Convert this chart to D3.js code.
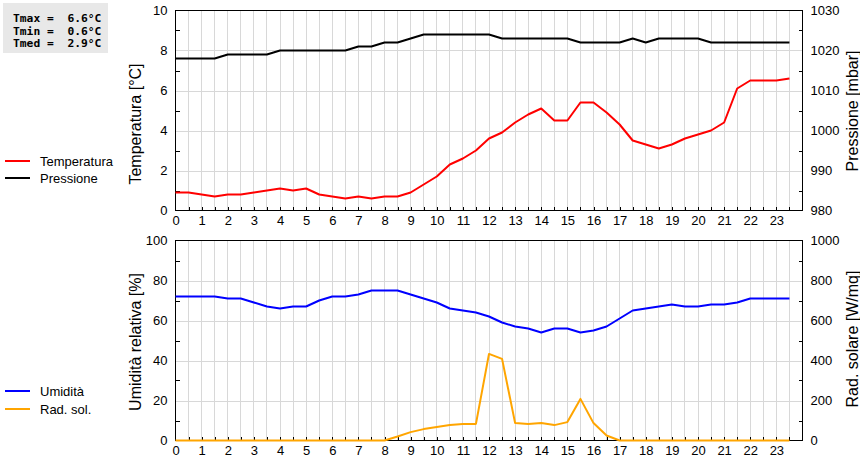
<!DOCTYPE html>
<html><head><meta charset="utf-8">
<script src="https://cdn.jsdelivr.net/npm/d3@7"></script>
<style>body{margin:0;background:#fff}svg{display:block}</style>
</head><body><svg id="c" width="860" height="460"></svg>
<script>
// half-hour samples 0 .. 23.5
const hours = d3.range(48).map(i => i / 2);
const temperatura = [0.9,0.9,0.8,0.7,0.8,0.8,0.9,1.0,1.1,1.0,1.1,0.8,0.7,0.6,0.7,0.6,0.7,0.7,0.9,1.3,1.7,2.3,2.6,3.0,3.6,3.9,4.4,4.8,5.1,4.5,4.5,5.4,5.4,4.9,4.3,3.5,3.3,3.1,3.3,3.6,3.8,4.0,4.4,6.1,6.5,6.5,6.5,6.6];
const pressione = [1018,1018,1018,1018,1019,1019,1019,1019,1020,1020,1020,1020,1020,1020,1021,1021,1022,1022,1023,1024,1024,1024,1024,1024,1024,1023,1023,1023,1023,1023,1023,1022,1022,1022,1022,1023,1022,1023,1023,1023,1023,1022,1022,1022,1022,1022,1022,1022];
const umidita = [72,72,72,72,71,71,69,67,66,67,67,70,72,72,73,75,75,75,73,71,69,66,65,64,62,59,57,56,54,56,56,54,55,57,61,65,66,67,68,67,67,68,68,69,71,71,71,71];
const radiazione = [0,0,0,0,0,0,0,0,0,0,0,0,0,0,0,0,0,20,42,57,67,77,83,83,433,408,87,82,88,77,92,208,87,25,0,0,0,0,0,0,0,0,0,0,0,0,0,0];
const hourTicks = d3.range(24);
const statsLabels = ["Tmax =  6.6°C", "Tmin =  0.6°C", "Tmed =  2.9°C"];

const svg = d3.select("#c");
const F = "'Liberation Sans', Arial, sans-serif";
const L = 175.5, R = 802.5;
const x = d3.scaleLinear().domain([0, 24]).range([L, R]);
const fmt = d3.format("d");

function panel(top, bottom, yl, yr, cfg) {
  const g = svg.append("g");
  // grid
  g.selectAll(".vg").data(d3.range(1, 48)).join("line")
    .attr("x1", d => x(d / 2)).attr("x2", d => x(d / 2))
    .attr("y1", top).attr("y2", bottom).attr("stroke", "#d8d8d8").attr("stroke-width", 1)
    .attr("shape-rendering", "crispEdges");
  g.selectAll(".hg").data(cfg.majorL.slice(1, -1)).join("line")
    .attr("x1", L).attr("x2", R).attr("y1", d => Math.round(yl(d)) + 0.5).attr("y2", d => Math.round(yl(d)) + 0.5)
    .attr("stroke", "#d8d8d8").attr("shape-rendering", "crispEdges");
  // axes
  const ax = d3.axisBottom(x).tickValues(hourTicks).tickSize(0).tickPadding(5).tickFormat(fmt);
  const gx = g.append("g").attr("transform", `translate(0,${bottom})`).call(ax);
  gx.select(".domain").remove();
  gx.selectAll("text").attr("font-family", F).attr("font-size", 13).attr("fill", "#000");
  // inward x ticks every half hour
  g.selectAll(".xt").data(d3.range(1, 48)).join("line")
    .attr("x1", d => Math.round(x(d / 2)) + 0.5).attr("x2", d => Math.round(x(d / 2)) + 0.5)
    .attr("y1", bottom).attr("y2", bottom - 4).attr("stroke", "#000").attr("shape-rendering", "crispEdges");
  const ayl = d3.axisLeft(yl).tickValues(cfg.majorL).tickSize(0).tickPadding(8).tickFormat(fmt);
  const gl = g.append("g").attr("transform", `translate(${L},0)`).call(ayl);
  gl.select(".domain").remove();
  gl.selectAll("text").attr("font-family", F).attr("font-size", 13).attr("fill", "#000");
  g.selectAll(".ylt").data(cfg.minorL).join("line")
    .attr("x1", L).attr("x2", L + 4).attr("y1", d => Math.round(yl(d)) + 0.5).attr("y2", d => Math.round(yl(d)) + 0.5)
    .attr("stroke", "#000").attr("shape-rendering", "crispEdges");
  const ayr = d3.axisRight(yr).tickValues(cfg.majorR).tickSize(0).tickPadding(8).tickFormat(fmt);
  const gr = g.append("g").attr("transform", `translate(${R},0)`).call(ayr);
  gr.select(".domain").remove();
  gr.selectAll("text").attr("font-family", F).attr("font-size", 13).attr("fill", "#000");
  g.selectAll(".yrt").data(cfg.minorR).join("line")
    .attr("x1", R).attr("x2", R - 4).attr("y1", d => Math.round(yr(d)) + 0.5).attr("y2", d => Math.round(yr(d)) + 0.5)
    .attr("stroke", "#000").attr("shape-rendering", "crispEdges");
  // frame
  g.append("rect").attr("x", L).attr("y", top).attr("width", R - L).attr("height", bottom - top)
    .attr("fill", "none").attr("stroke", "#000").attr("shape-rendering", "crispEdges");
  // titles
  g.append("text").attr("transform", `translate(141,${cfg.ltY}) rotate(-90)`).attr("text-anchor", "middle")
    .attr("font-family", F).attr("font-size", 16).text(cfg.lt);
  g.append("text").attr("transform", `translate(858,${cfg.rtY}) rotate(-90)`).attr("text-anchor", "middle")
    .attr("font-family", F).attr("font-size", 16).text(cfg.rt);
  return g;
}

// top panel
const yT = d3.scaleLinear().domain([0, 10]).range([210.5, 10.5]);
const yP = d3.scaleLinear().domain([980, 1030]).range([210.5, 10.5]);
panel(10.5, 210.5, yT, yP, {
  majorL: [0, 2, 4, 6, 8, 10], minorL: [1, 3, 5, 7, 9],
  majorR: [980, 990, 1000, 1010, 1020, 1030], minorR: [985, 995, 1005, 1015, 1025],
  lt: "Temperatura [°C]", rt: "Pressione [mbar]", ltY: 124, rtY: 111
});
// bottom panel
const yU = d3.scaleLinear().domain([0, 100]).range([440.5, 240.5]);
const yS = d3.scaleLinear().domain([0, 1000]).range([440.5, 240.5]);
panel(240.5, 440.5, yU, yS, {
  majorL: [0, 20, 40, 60, 80, 100], minorL: [10, 30, 50, 70, 90],
  majorR: [0, 200, 400, 600, 800, 1000], minorR: [100, 300, 500, 700, 900],
  lt: "Umidità relativa [%]", rt: "Rad. solare [W/mq]", ltY: 342, rtY: 339
});

function drawLine(vals, y, color) {
  svg.append("path").datum(vals)
    .attr("d", d3.line().x((d, i) => x(hours[i])).y(d => y(d)))
    .attr("fill", "none").attr("stroke", color).attr("stroke-width", 2).attr("stroke-linejoin", "round");
}
drawLine(pressione, yP, "#000");
drawLine(temperatura, yT, "#ff0000");
drawLine(radiazione, yS, "#ffa500");
drawLine(umidita, yU, "#0000ff");

// legends
const legends = [
  {label: "Temperatura", color: "#ff0000", y: 161},
  {label: "Pressione", color: "#000", y: 178},
  {label: "Umidità", color: "#0000ff", y: 391},
  {label: "Rad. sol.", color: "#ffa500", y: 409}
];
legends.forEach(l => {
  svg.append("line").attr("x1", 5).attr("x2", 30).attr("y1", l.y).attr("y2", l.y)
    .attr("stroke", l.color).attr("stroke-width", 2);
  svg.append("text").attr("x", 40).attr("y", l.y + 5).attr("font-family", F).attr("font-size", 13).text(l.label);
});

// stats box
svg.append("rect").attr("x", 3).attr("y", 3).attr("width", 105).attr("height", 50).attr("fill", "#e8e8e8");
statsLabels.forEach((s, i) => {
  svg.append("text").attr("x", 13).attr("y", 22 + i * 12.5)
    .attr("font-family", "'DejaVu Sans Mono', monospace").attr("font-weight", "bold")
    .attr("font-size", 11.3).attr("xml:space", "preserve").style("white-space", "pre").text(s);
});
</script></body></html>
